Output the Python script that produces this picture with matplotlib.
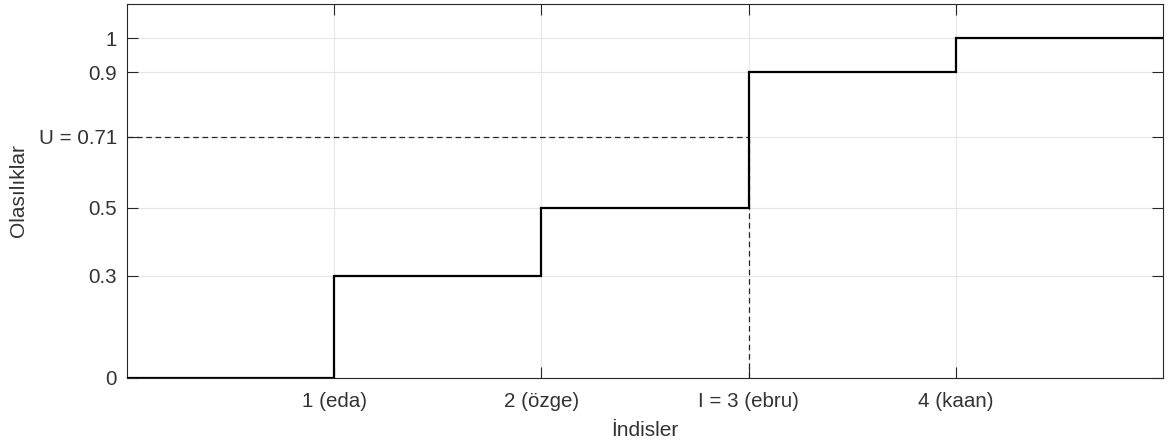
import numpy as np
import matplotlib.pyplot as plt

plt.rcParams['font.family'] = ['Liberation Sans', 'DejaVu Sans']

# cumulative probabilities per index
edges = [0, 1, 2, 3, 4, 5]
cum_probs = [0, 0.3, 0.5, 0.9, 1]
x_ticks = [1, 2, 3, 4]
x_labels = ['1 (eda)', '2 (özge)', 'I = 3 (ebru)', '4 (kaan)']
y_ticks = [0, 0.3, 0.5, 0.71, 0.9, 1]
y_labels = ['0', '0.3', '0.5', 'U = 0.71', '0.9', '1']
u_value = 0.71
i_value = 3

fig = plt.figure(figsize=(11.7, 4.41), dpi=100)
ax = fig.add_axes([0.1085, 0.1429, 0.8855, 0.848])

ax.stairs(cum_probs, edges, baseline=None, color='black', linewidth=1.6, zorder=3)
ax.plot([0, i_value], [u_value, u_value], color='#262626', linewidth=0.9, dashes=(4.5, 3))
ax.plot([i_value, i_value], [0, u_value], color='#262626', linewidth=0.9, dashes=(4.5, 3))

ax.set_xlim(0, 5)
ax.set_ylim(0, 1.1)
ax.set_xticks(x_ticks)
ax.set_xticklabels(x_labels)
ax.set_yticks(y_ticks)
ax.set_yticklabels(y_labels)
ax.grid(True, color='#e6e6e6', linewidth=0.8)
ax.set_axisbelow(True)
ax.tick_params(direction='in', length=8, width=0.8, colors='#262626', labelsize=14.8,
               labelcolor='#333333', top=True, right=True, pad=7)
ax.tick_params(axis='x', pad=10)
for s in ax.spines.values():
    s.set_color('#262626')
    s.set_linewidth(0.8)

ax.set_xlabel('İndisler', fontsize=15, color='#333333', labelpad=7)
ax.set_ylabel('Olasılıklar', fontsize=15, color='#333333', labelpad=8)

fig.savefig('out.png', dpi=100)
